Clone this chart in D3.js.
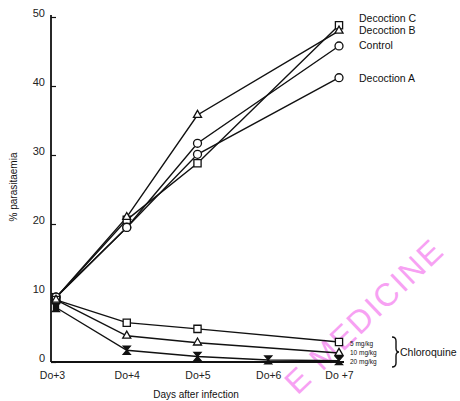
<!DOCTYPE html>
<html>
<head>
<meta charset="utf-8">
<script src="https://cdn.jsdelivr.net/npm/d3@7"></script>
<style>
  html, body { margin: 0; padding: 0; background: #fff; }
  svg { display: block; }
  text { font-family: "Liberation Sans", Arial, sans-serif; fill: #111; }
</style>
</head>
<body>
<svg id="chart" width="460" height="401"></svg>
<script>
// ---- data ----
const days = [3, 4, 5, 6, 7];
const dayLabels = ["Do+3", "Do+4", "Do+5", "Do+6", "Do +7"];
const yTicks = [0, 10, 20, 30, 40, 50];

const decoctionC = [9.3, 20.6, 28.8, null, 48.8];
const decoctionB = [9.3, 21.0, 35.8, null, 48.0];
const control    = [9.4, 19.5, 31.7, null, 45.8];
const decoctionA = [9.4, 19.5, 30.1, null, 41.2];
const chloro5    = [9.0, 5.7, 4.8, null, 2.9];
const chloro10   = [9.0, 3.8, 2.8, null, 1.3];
const chloro20   = [7.9, 1.7, 0.8, 0.3, 0.2];

const seriesNames = ["Decoction C", "Decoction B", "Control", "Decoction A"];
const chloroNames = ["5 mg/kg", "10 mg/kg", "20 mg/kg"];

// ---- chart ----
const svg = d3.select("#chart");
const x = d3.scaleLinear().domain([3, 7]).range([56, 339]);
const y = d3.scaleLinear().domain([0, 50]).range([362, 17]);

// watermark
svg.append("text")
  .attr("transform", "translate(366,318) rotate(-44)")
  .attr("text-anchor", "middle")
  .attr("dominant-baseline", "middle")
  .style("font-size", "32px")
  .style("letter-spacing", "2px")
  .style("fill", "#f7a1f3")
  .text("E MEDICINE");

// y axis
const yAxis = d3.axisLeft(y).tickValues(yTicks).tickSizeInner(-5).tickSizeOuter(0).tickPadding(6);
const gy = svg.append("g").attr("transform", "translate(51,0)").call(yAxis);
gy.select(".domain").remove();
gy.selectAll("line").attr("stroke", "#111").attr("stroke-width", 1.2);
gy.selectAll("text").style("font-size", "11px").style("fill", "#222").attr("dy", "-0.05em");
svg.append("line").attr("x1", 51).attr("x2", 51).attr("y1", y(0)).attr("y2", y(50) - 2)
  .attr("stroke", "#111").attr("stroke-width", 1.8);

// x axis
const xAxis = d3.axisBottom(x).tickValues(days).tickSize(0).tickPadding(10)
  .tickFormat((d, i) => dayLabels[i]);
const gx = svg.append("g").attr("transform", `translate(0,${y(0)})`).call(xAxis);
gx.select(".domain").remove();
gx.selectAll("text").style("font-size", "10.5px").style("fill", "#222");
gx.selectAll(".tick").filter(d => d === 3).select("text").attr("x", -4);
svg.append("line").attr("x1", 51).attr("x2", 344).attr("y1", y(0)).attr("y2", y(0))
  .attr("stroke", "#111").attr("stroke-width", 1.8);

// axis titles
svg.append("text")
  .attr("transform", "translate(17,187) rotate(-90)")
  .attr("text-anchor", "middle")
  .style("font-size", "10px")
  .text("% parasitaemia");
svg.append("text")
  .attr("x", 196).attr("y", 398)
  .attr("text-anchor", "middle")
  .style("font-size", "10px")
  .text("Days after infection");

// lines
const line = d3.line().x(d => x(d[0])).y(d => y(d[1]));
const pts = arr => days.map((d, i) => [d, arr[i]]).filter(p => p[1] !== null);

const allSeries = [
  { vals: decoctionC, mark: "square" },
  { vals: decoctionB, mark: "triangle" },
  { vals: control, mark: "circle" },
  { vals: decoctionA, mark: "circle" },
  { vals: chloro5, mark: "square" },
  { vals: chloro10, mark: "triangle" },
  { vals: chloro20, mark: "hourglass" }
];

allSeries.forEach(s => {
  svg.append("path").datum(pts(s.vals)).attr("d", line)
    .attr("fill", "none").attr("stroke", "#111").attr("stroke-width", 1.4);
});

const sym = {
  square: d3.symbol().type(d3.symbolSquare).size(52)(),
  circle: d3.symbol().type(d3.symbolCircle).size(50)(),
  triangle: d3.symbol().type(d3.symbolTriangle).size(28)(),
  hourglass: "M-3.5,-4L3.5,-4L-3.5,4L3.5,4Z"
};

allSeries.forEach(s => {
  svg.append("g").selectAll("path").data(pts(s.vals)).join("path")
    .attr("transform", d => `translate(${x(d[0])},${y(d[1])})`)
    .attr("d", sym[s.mark])
    .attr("fill", s.mark === "hourglass" ? "#111" : "#fff")
    .attr("stroke", "#111").attr("stroke-width", 1.3);
});

// filled marker at Do+3 for the 20 mg/kg group
svg.append("path")
  .attr("transform", `translate(${x(3)},${y(chloro20[0])})`)
  .attr("d", d3.symbol().type(d3.symbolSquare).size(40)())
  .attr("fill", "#111");

// end labels for decoctions
const labelY = [22, 34, 49, 82];
seriesNames.forEach((n, i) => {
  svg.append("text").attr("x", 359).attr("y", labelY[i])
    .style("font-size", "10.5px").text(n);
});

// chloroquine labels
const cLabelY = [346, 355, 364];
chloroNames.forEach((n, i) => {
  svg.append("text").attr("x", 350).attr("y", cLabelY[i])
    .style("font-size", "6.5px").text(n);
});
svg.append("path")
  .attr("d", "M392,337 Q396,337 396,341 L396,348 Q396,352 399,352 Q396,352 396,356 L396,363 Q396,367 392,367")
  .attr("fill", "none").attr("stroke", "#111").attr("stroke-width", 1.4);
svg.append("text").attr("x", 400).attr("y", 356)
  .style("font-size", "10.5px").text("Chloroquine");
</script>
</body>
</html>
